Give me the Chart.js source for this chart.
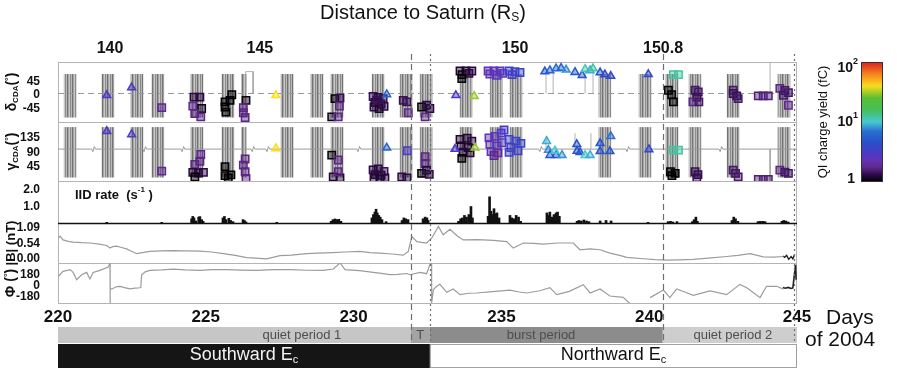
<!DOCTYPE html>
<html>
<head>
<meta charset="utf-8">
<script src="https://cdn.jsdelivr.net/npm/chart.js@4"></script>
<style>
  html, body { margin: 0; padding: 0; background: #fff; }
  #grafico { display: block; }
</style>
</head>
<body>
<canvas id="grafico" width="897" height="372"></canvas>
<script>
// ---- datos ----
const diasEje = [220, 225, 230, 235, 240, 245];
const distancias = ["140", "145", "150", "150.8"];
const diasDistancia = [221.76, 226.83, 235.46, 240.47];

// centros de los barridos del detector (día del año)
const barridos = [220.41, 221.69, 222.67, 223.38, 224.70, 225.75, 227.75, 228.76, 229.44, 230.83,
  231.77, 232.45, 233.80, 234.82, 235.49, 238.50, 239.86, 240.77, 241.55, 242.84, 244.56];
const barridosCortos = [226.29];
const rangoDelta = [-74, 69];
const rangoGamma = [12, 168];

// [día, ángulo, carga QI (fC)]
const cuadradosDelta = [
  [223.51, -42, 1.8], [224.60, -7, 1.3], [224.80, -7, 1.3], [224.56, -37, 1.8], [224.86, -45, 1.1],
  [224.63, -62, 1.7], [224.83, -73, 1.7], [225.88, 1, 1.0], [225.82, -18, 1.0], [225.65, -23, 1.0],
  [225.65, -40, 1.0], [225.68, -57, 1.0], [226.36, -18, 1.1], [226.27, -42, 1.7], [226.27, -59, 1.7],
  [226.33, -75, 1.7], [229.37, -12, 1.0], [229.54, -10, 1.4], [229.52, -37, 1.7], [229.26, -73, 1.1],
  [229.48, -73, 1.7], [230.66, -5, 1.4], [230.83, -8, 1.3], [231.00, -12, 1.4], [230.72, -25, 1.3],
  [230.93, -30, 1.4], [230.69, -40, 1.3], [230.86, -45, 1.2], [231.03, -38, 1.3], [230.79, -18, 1.4],
  [231.68, -18, 1.4], [231.80, -23, 1.4], [231.85, -59, 1.8], [232.30, -40, 1.0], [232.47, -34, 1.3],
  [232.58, -45, 1.3], [232.42, -73, 1.7], [233.60, 80, 1.2], [233.80, 80, 1.2], [234.00, 80, 1.3],
  [233.67, 68, 1.1], [233.90, 72, 1.3], [233.66, 55, 1.0], [234.55, 80, 2.5], [234.75, 80, 2.5],
  [234.95, 80, 2.5], [234.61, 70, 2.4], [234.85, 66, 2.6], [235.05, 72, 2.5], [235.26, 80, 3.5],
  [235.46, 78, 3.5], [235.63, 75, 3.8], [235.36, 68, 3.3], [240.82, 68, 12], [240.99, 68, 12],
  [240.65, 16, 1.0], [240.76, 1, 1.0], [240.82, -23, 1.0], [241.55, 16, 1.5], [241.66, 10, 1.5],
  [241.61, -7, 1.4], [241.48, -23, 1.7], [241.68, -23, 1.5], [242.84, 16, 1.5], [242.84, 5, 1.4],
  [242.96, -3, 1.4], [243.01, -12, 1.5], [243.69, -3, 1.6], [243.86, -3, 1.6], [244.03, -3, 1.6],
  [244.42, 22, 1.7], [244.59, 15, 1.5], [244.71, 8, 1.5], [244.54, -1, 1.5], [244.71, -34, 1.8]
];
const triangulosDelta = [
  [221.65, -1, 3], [222.49, 25, 3], [227.37, -1, 40], [231.12, 2, 6], [233.46, -1, 3], [234.08, -4, 30],
  [236.47, 78, 5], [236.64, 82, 6], [236.85, 88, 7], [237.02, 90, 6], [237.19, 84, 8], [237.49, 76, 5],
  [237.73, 66, 5], [237.83, 86, 11], [238.00, 82, 9], [238.10, 88, 12], [238.34, 75, 5], [238.50, 68, 4],
  [238.70, 63, 4], [239.97, 69, 4]
];
const cuadradosGamma = [
  [223.51, 31, 1.8], [224.83, 83, 1.8], [224.63, 52, 1.7], [224.80, 62, 1.7], [224.56, 27, 1.3],
  [224.75, 25, 1.3], [224.92, 27, 1.3], [224.63, 13, 1.0], [225.65, 45, 1.0], [225.85, 19, 1.0],
  [225.65, 17, 1.0], [225.76, 10, 1.0], [226.33, 69, 1.7], [226.27, 50, 1.7], [226.33, 29, 1.7],
  [226.36, 8, 1.7], [229.26, 81, 1.0], [229.48, 66, 1.7], [229.31, 13, 1.2], [229.54, 10, 1.2],
  [229.48, 29, 1.7], [230.66, 35, 1.3], [230.83, 38, 1.3], [231.03, 30, 1.4], [230.72, 20, 1.3],
  [230.93, 18, 1.3], [230.69, 8, 1.3], [230.89, 6, 1.2], [231.06, 10, 1.3], [231.82, 95, 3],
  [231.63, 13, 1.3], [231.80, 10, 1.3], [232.42, 76, 1.7], [232.42, 55, 1.7], [232.30, 24, 1.0],
  [232.47, 34, 1.3], [232.56, 21, 1.3], [233.60, 130, 1.2], [233.84, 134, 1.2], [234.00, 125, 1.3],
  [233.63, 110, 1.2], [233.87, 105, 1.2], [233.70, 90, 1.3], [233.94, 88, 1.2], [233.66, 71, 1.0],
  [234.58, 135, 2.5], [234.78, 140, 2.5], [234.99, 150, 2.8], [235.09, 160, 3.0], [234.61, 115, 2.4],
  [234.85, 110, 2.5], [235.02, 120, 2.6], [234.65, 92, 2.5], [234.88, 88, 2.0], [234.75, 80, 1.8],
  [235.26, 130, 3.5], [235.49, 125, 3.5], [235.66, 118, 3.8], [235.32, 105, 3.3], [235.56, 95, 3.5],
  [235.26, 90, 3.5], [240.82, 97, 12], [240.99, 97, 12], [240.72, 29, 1.0], [240.88, 24, 1.0],
  [240.77, 17, 1.0], [241.55, 29, 1.4], [241.65, 20, 1.4], [241.61, 10, 1.4], [242.84, 34, 1.5],
  [242.92, 24, 1.5], [243.01, 13, 1.5], [243.69, 5, 1.6], [243.86, 5, 1.6], [244.03, 5, 1.6],
  [244.42, 34, 1.7], [244.59, 28, 1.5], [244.71, 24, 1.5]
];
const triangulosGamma = [
  [221.65, 156, 3], [222.49, 146, 3], [227.37, 102, 40], [231.12, 104, 6], [233.43, 100, 3],
  [234.11, 104, 30], [236.53, 125, 9], [236.59, 97, 8], [236.64, 81, 5], [236.85, 81, 5],
  [237.05, 81, 8], [236.81, 95, 10], [237.55, 115, 5], [237.56, 94, 5], [237.66, 90, 5],
  [237.83, 81, 10], [238.00, 81, 9], [238.34, 118, 5], [238.34, 93, 5], [238.67, 93, 5],
  [238.70, 140, 7], [239.99, 99, 4]
];

// líneas de referencia de los ángulos [día, valor]
const baseDelta = [[220, 5], [245, 5]];
const picosDelta = [
  [226.35, 5], [226.35, 78], [226.6, 78], [226.6, 5], [226.6, null],
  [236.51, 5], [236.51, 75], [236.51, null], [236.75, 5], [236.75, 86], [236.75, null],
  [237.83, 5], [237.83, 82], [237.83, null], [238.10, 5], [238.10, 86], [238.10, null],
  [244.09, 5], [244.09, 108]
];
const baseGamma = [
  [220, 100], [221.14, 100], [221.18, 92], [221.23, 108], [221.27, 100],
  [222.87, 100], [222.91, 92], [222.96, 108], [223.00, 100],
  [224.16, 100], [224.20, 92], [224.25, 108], [224.29, 100],
  [226.53, 100], [226.57, 92], [226.62, 108], [226.66, 100],
  [227.03, 100], [227.07, 92], [227.12, 108], [227.16, 100],
  [230.11, 100], [230.15, 92], [230.20, 108], [230.24, 100],
  [233.32, 100], [233.36, 92], [233.41, 108], [233.45, 100],
  [236.26, 100], [236.30, 92], [236.35, 108], [236.39, 100],
  [239.21, 100], [239.25, 92], [239.30, 108], [239.34, 100],
  [242.36, 100], [242.40, 92], [242.45, 108], [242.49, 100], [245, 100]
];
const picosGamma = [
  [236.51, 100], [236.51, 140], [236.51, null], [237.49, 100], [237.49, 150], [237.49, null],
  [238.03, 100], [238.03, 150], [238.03, null], [244.09, 100], [244.09, 0]
];

// tasa IID (s^-1)
const tasaIID = [
  [221.65, 0.04], [223.51, 0.04],
  [224.52, 0.25], [224.56, 0.39], [224.60, 0.30], [224.66, 0.12], [224.76, 0.35], [224.80, 0.38], [224.86, 0.20], [224.91, 0.10],
  [225.58, 0.30], [225.63, 0.39], [225.68, 0.20], [225.78, 0.28], [225.84, 0.15], [225.92, 0.08],
  [226.26, 0.20], [226.31, 0.14], [226.36, 0.06], [227.40, 0.04],
  [229.24, 0.10], [229.30, 0.20], [229.37, 0.24], [229.44, 0.20], [229.50, 0.22], [229.57, 0.10],
  [230.62, 0.30], [230.67, 0.50], [230.72, 0.65], [230.76, 0.82], [230.80, 0.60], [230.85, 0.45], [230.90, 0.35], [230.96, 0.20], [231.10, 0.08],
  [231.64, 0.15], [231.70, 0.30], [231.76, 0.25], [231.84, 0.20],
  [232.35, 0.25], [232.42, 0.35], [232.48, 0.30], [232.52, 0.15],
  [233.55, 0.10], [233.62, 0.25], [233.68, 0.30], [233.75, 0.45], [233.82, 0.35], [233.90, 0.50], [233.97, 0.98], [234.02, 0.30],
  [234.55, 0.40], [234.60, 1.56], [234.65, 0.70], [234.70, 0.50], [234.75, 0.85], [234.80, 0.55], [234.85, 0.60], [234.92, 0.30],
  [235.29, 0.45], [235.35, 0.30], [235.42, 0.25], [235.50, 0.45], [235.58, 0.35], [235.65, 0.10],
  [236.54, 0.60], [236.58, 0.45], [236.64, 0.65], [236.70, 0.35], [236.78, 0.50], [236.85, 0.60], [236.90, 0.65], [236.96, 0.40],
  [237.56, 0.10], [237.62, 0.15], [237.70, 0.12], [237.79, 0.18], [237.88, 0.12], [237.96, 0.08],
  [238.34, 0.12], [238.54, 0.15], [238.71, 0.12], [239.96, 0.04],
  [240.64, 0.08], [240.72, 0.10], [240.80, 0.06], [240.94, 0.08],
  [241.46, 0.08], [241.52, 0.20], [241.58, 0.35], [241.63, 0.10],
  [242.80, 0.15], [242.86, 0.35], [242.92, 0.25], [243.00, 0.10],
  [243.68, 0.08], [243.76, 0.10], [243.84, 0.10], [243.92, 0.08],
  [244.49, 0.10], [244.55, 0.15], [244.62, 0.12], [244.70, 0.06]
];

// |B| (nT)
const campoB = [
  [220.01, 0.73], [220.07, 0.80], [220.17, 0.67], [220.35, 0.62], [220.51, 0.59], [220.80, 0.57],
  [221.08, 0.56], [221.40, 0.52], [221.65, 0.47], [221.76, 0.38], [221.85, 0.43], [221.99, 0.45],
  [222.15, 0.40], [222.32, 0.35], [222.50, 0.26], [222.66, 0.18], [222.85, 0.22], [223.11, 0.26],
  [223.50, 0.28], [223.90, 0.29], [224.30, 0.28], [224.80, 0.27], [225.20, 0.24], [225.59, 0.18],
  [226.00, 0.12], [226.38, 0.04], [226.70, 0.02], [227.06, 0.00], [227.51, 0.11], [227.90, 0.13],
  [228.41, 0.18], [228.80, 0.20], [229.31, 0.22], [229.70, 0.24], [230.22, 0.26], [230.55, 0.22],
  [230.89, 0.20], [231.30, 0.17], [231.68, 0.13], [231.85, 0.26], [231.97, 0.79], [232.14, 0.61],
  [232.30, 0.58], [232.47, 0.56], [232.64, 0.73], [232.87, 1.15], [233.03, 0.85], [233.26, 1.05],
  [233.50, 0.82], [233.71, 0.67], [234.20, 0.68], [234.73, 0.65], [235.18, 0.61], [235.40, 0.38],
  [235.74, 0.56], [236.10, 0.55], [236.42, 0.52], [236.90, 0.56], [237.43, 0.56], [237.66, 0.32],
  [238.00, 0.35], [238.34, 0.32], [238.67, 0.20], [239.00, 0.12], [239.24, 0.05], [239.80, 0.00],
  [240.20, -0.03], [240.59, -0.05], [241.00, -0.04], [241.49, -0.02], [242.00, 0.02], [242.62, 0.08],
  [243.00, 0.12], [243.41, 0.18], [243.86, 0.07], [244.20, 0.06], [244.54, 0.08]
];
const campoBFinal = [[244.52, 0.10], [244.58, 0.05], [244.65, 0.12], [244.72, -0.02], [244.80, 0.08], [244.86, 0.00], [244.92, 0.15]];

// Φ (°)
const anguloPhi = [
  [220.01, 148], [220.17, 227], [220.41, 254], [220.51, 211], [220.63, 95], [220.80, 174], [220.97, 211],
  [221.08, 106], [221.19, 211], [221.42, 243], [221.70, 296], [221.76, 360], [221.76, -275], [221.77, -52],
  [221.82, -52], [221.99, -14], [222.10, -10], [222.25, -30], [222.44, -52], [222.60, -40], [222.72, -37],
  [222.80, -30], [222.83, 174], [222.95, 220], [223.11, 243], [223.50, 250], [223.90, 264], [224.30, 250],
  [224.80, 243], [225.20, 255], [225.71, 254], [226.20, 248], [226.72, 243], [227.30, 255], [227.85, 254],
  [228.40, 245], [228.97, 243], [229.31, 264], [229.54, 360], [229.71, 254], [230.20, 240], [230.67, 211],
  [231.00, 190], [231.23, 174], [231.50, 180], [231.80, 193], [231.91, 174], [232.25, 211], [232.47, 190],
  [232.58, 333], [232.64, 360], [232.64, -275], [232.70, -60], [232.81, -10], [232.92, 21], [233.15, -106],
  [233.37, -54], [233.60, -143], [233.90, -120], [234.16, -116], [234.70, -95], [235.29, -70], [235.60, -100],
  [235.86, -116], [236.30, -80], [236.64, -32], [236.87, -143], [237.30, -90], [237.77, 16], [238.00, -116],
  [238.34, -52], [238.67, -164], [239.12, -185], [239.35, -285], [239.40, null], [240.03, -190], [240.48, -70],
  [240.70, -190], [240.93, -52], [241.20, -100], [241.49, -154], [242.06, -84], [242.62, -143], [243.07, 21],
  [243.30, -32], [243.75, -190], [243.97, -10], [244.31, -10], [244.54, -54]
];
const anguloPhiFinal = [[244.52, -30], [244.60, -40], [244.70, -28], [244.80, -45], [244.86, -35], [244.95, 330], [244.97, 95]];

// periodos y sentido del campo
const periodos = ["quiet period 1", "T", "burst period", "quiet period 2"];
const limitesPeriodo = [220, 231.93, 232.58, 240.46, 245];
const anclasPeriodo = [228.25, 232.25, 236.34, 242.83];
const campos = ["Southward", "Northward"];
const limitesCampo = [220, 232.58, 245];
const cortes = [231.93, 232.58, 240.46, 244.9];

// ---- estilo ----
Chart.defaults.font.family = "'Liberation Sans', Arial, sans-serif";
Chart.defaults.color = "#111";

const paradas = [
  [0.00, [0, 0, 0]], [0.06, [45, 10, 70]], [0.12, [95, 40, 140]], [0.18, [100, 50, 180]],
  [0.25, [70, 60, 200]], [0.33, [40, 80, 200]], [0.42, [40, 110, 210]], [0.50, [70, 200, 210]],
  [0.60, [70, 190, 90]], [0.70, [90, 190, 50]], [0.80, [250, 220, 30]], [0.90, [245, 130, 30]],
  [1.00, [220, 30, 30]]
];

function colorRendimiento(q, alfa) {
  const t = Math.min(1, Math.max(0, Math.log10(q) / 2));
  let i = 1;
  while (i < paradas.length - 1 && paradas[i][0] < t) i++;
  const [t0, c0] = paradas[i - 1];
  const [t1, c1] = paradas[i];
  const f = (t - t0) / (t1 - t0);
  const c = c0.map((v, k) => Math.round(v + (c1[k] - v) * f));
  return `rgba(${c[0]}, ${c[1]}, ${c[2]}, ${alfa})`;
}

function patronRayado() {
  const c = document.createElement("canvas");
  c.width = 5;
  c.height = 1;
  const g = c.getContext("2d");
  ["#8c8c8c", "#b8b8b8", "#727272", "#a4a4a4", "#c8c8c8"].forEach((col, i) => {
    g.fillStyle = col;
    g.fillRect(i, 0, 1, 1);
  });
  return g.createPattern(c, "repeat");
}
const rayado = patronRayado();

const puntos = lista => lista.map(([x, y]) => ({ x, y }));

function marcadores(lista, eje, estilo, radio) {
  return {
    type: "scatter",
    yAxisID: eje,
    order: 1,
    data: puntos(lista),
    pointStyle: estilo,
    pointRadius: radio,
    pointBorderWidth: 1.5,
    pointBorderColor: lista.map(p => colorRendimiento(p[2], 1)),
    pointBackgroundColor: lista.map(p => colorRendimiento(p[2], 0.45))
  };
}

function barrido(centros, rango, eje, grosor) {
  return {
    type: "bar",
    yAxisID: eje,
    order: 4,
    grouped: false,
    barThickness: grosor,
    data: centros.map(x => ({ x, y: rango })),
    backgroundColor: rayado,
    borderWidth: 0
  };
}

function linea(lista, eje, color, ancho, guiones) {
  return {
    type: "line",
    yAxisID: eje,
    order: 3,
    data: puntos(lista),
    borderColor: color,
    borderWidth: ancho,
    borderDash: guiones || [],
    pointRadius: 0,
    tension: 0,
    spanGaps: false
  };
}

function ejePanel(min, max, peso, orden, marcas, formato) {
  return {
    type: "linear",
    position: "left",
    stack: "paneles",
    stackWeight: peso,
    weight: orden,
    min: min,
    max: max,
    afterBuildTicks: s => { s.ticks = marcas.map(v => ({ value: v })); },
    afterFit: s => { s.width = 58; },
    grid: { display: false, drawTicks: false },
    border: { display: false },
    ticks: { autoSkip: false, padding: 18, color: "#111", font: { size: 12, weight: "bold" }, callback: formato }
  };
}

// texto con sub/superíndices: piezas [texto, fuente, desplazamiento]
function textoCompuesto(ctx, piezas, x, y, alinear) {
  let ancho = 0;
  const medidas = piezas.map(([t, f]) => { ctx.font = f; const w = ctx.measureText(t).width; ancho += w; return w; });
  let cx = alinear === "center" ? x - ancho / 2 : alinear === "right" ? x - ancho : x;
  ctx.textAlign = "left";
  ctx.textBaseline = "middle";
  piezas.forEach(([t, f, dy], i) => {
    ctx.font = f;
    ctx.fillText(t, cx, y + (dy || 0));
    cx += medidas[i];
  });
}

function textoVertical(ctx, piezas, x, y) {
  ctx.save();
  ctx.translate(x, y);
  ctx.rotate(-Math.PI / 2);
  textoCompuesto(ctx, piezas, 0, 0, "center");
  ctx.restore();
}

const F = "'Liberation Sans', Arial, sans-serif";
const paneles = ["yDelta", "yGamma", "yIID", "yB", "yPhi"];

const decoracion = {
  id: "decoracion",
  beforeDatasetsDraw(chart) {
    const { ctx, chartArea: a, scales } = chart;
    ctx.save();
    ctx.strokeStyle = "#b4b4b4";
    ctx.lineWidth = 1;
    paneles.forEach(id => {
      const s = scales[id];
      ctx.strokeRect(a.left + 0.5, Math.round(s.top) + 0.5, a.width - 1, Math.round(s.bottom - s.top));
    });
    ctx.restore();
  },
  afterDatasetsDraw(chart) {
    const { ctx, chartArea: a, scales } = chart;
    const y0 = Math.round(scales.yIID.getPixelForValue(0)) + 0.5;
    ctx.save();
    ctx.strokeStyle = "#111";
    ctx.lineWidth = 1.5;
    ctx.beginPath();
    ctx.moveTo(a.left, y0);
    ctx.lineTo(a.right, y0);
    ctx.stroke();
    ctx.restore();
  },
  afterDraw(chart) {
    const { ctx, chartArea: a, scales } = chart;
    const x = scales.x;
    ctx.save();

    // franjas de periodos
    const coloresPeriodo = ["#c6c6c6", "#a4a4a4", "#8c8c8c", "#cecece"];
    periodos.forEach((p, i) => {
      const x0 = x.getPixelForValue(limitesPeriodo[i]);
      const x1 = x.getPixelForValue(limitesPeriodo[i + 1]);
      ctx.fillStyle = coloresPeriodo[i];
      ctx.fillRect(x0, 327, x1 - x0, 16);
      ctx.fillStyle = "#4e4e4e";
      textoCompuesto(ctx, [[p, `13px ${F}`]], x.getPixelForValue(anclasPeriodo[i]), 335.5, "center");
    });

    // sentido del campo
    campos.forEach((c, i) => {
      const x0 = x.getPixelForValue(limitesCampo[i]);
      const x1 = x.getPixelForValue(limitesCampo[i + 1]);
      if (i === 0) {
        ctx.fillStyle = "#151515";
        ctx.fillRect(x0, 344, x1 - x0, 24);
        ctx.fillStyle = "#f2f2f2";
      } else {
        ctx.strokeStyle = "#a0a0a0";
        ctx.lineWidth = 1;
        ctx.strokeRect(x0 + 0.5, 344.5, x1 - x0 - 1, 23);
        ctx.fillStyle = "#111";
      }
      textoCompuesto(ctx, [[c + " E", `18px ${F}`], ["c", `11px ${F}`, 5]], (x0 + x1) / 2, 355, "center");
    });

    // cortes entre periodos
    ctx.strokeStyle = "#6e6e6e";
    ctx.lineWidth = 1.2;
    cortes.forEach((d, i) => {
      const px = Math.round(x.getPixelForValue(d)) + 0.5;
      ctx.setLineDash(i % 2 === 0 ? [6, 4] : [2, 3]);
      ctx.beginPath();
      ctx.moveTo(px, a.top - 8);
      ctx.lineTo(px, 343);
      ctx.stroke();
    });
    ctx.setLineDash([]);

    // títulos
    ctx.fillStyle = "#111";
    textoCompuesto(ctx, [["Distance to Saturn (R", `20px ${F}`], ["S", `12px ${F}`, 5], [")", `20px ${F}`]], 423, 13, "center");
    textoCompuesto(ctx, [["Days", `21px ${F}`]], 826, 318, "left");
    textoCompuesto(ctx, [["of 2004", `21px ${F}`]], 805, 340, "left");
    textoCompuesto(ctx, [["IID rate  (s", `bold 13px ${F}`], ["-1", `bold 8px ${F}`, -5], [" )", `bold 13px ${F}`]], 75, 195, "left");

    const b = `bold 14px ${F}`, sb = `bold 8px ${F}`, gr = `bold 9px ${F}`;
    const yD = scales.yDelta, yG = scales.yGamma, yB = scales.yB, yP = scales.yPhi;
    textoVertical(ctx, [["δ", b], ["CDA", sb, 4], ["(", b], ["°", gr, -3], [")", b]], 12, (yD.top + yD.bottom) / 2);
    textoVertical(ctx, [["γ", b], ["CDA", sb, 4], ["(", b], ["°", gr, -3], [")", b]], 12, (yG.top + yG.bottom) / 2);
    textoVertical(ctx, [["|B| (nT)", `bold 13px ${F}`]], 11, (yB.top + yB.bottom) / 2);
    textoVertical(ctx, [["Φ (", b], ["°", gr, -3], [")", b]], 11, (yP.top + yP.bottom) / 2);

    // barra de color de la carga QI
    const cb = { x: 861, y: 62, w: 22, h: 120 };
    const grad = ctx.createLinearGradient(0, cb.y + cb.h, 0, cb.y);
    paradas.forEach(([t, c]) => grad.addColorStop(t, `rgb(${c[0]}, ${c[1]}, ${c[2]})`));
    ctx.fillStyle = grad;
    ctx.fillRect(cb.x, cb.y, cb.w, cb.h);
    ctx.strokeStyle = "#333";
    ctx.lineWidth = 1;
    ctx.strokeRect(cb.x + 0.5, cb.y + 0.5, cb.w - 1, cb.h - 1);
    ctx.fillStyle = "#111";
    const e = `bold 14px ${F}`, s = `bold 9px ${F}`;
    textoCompuesto(ctx, [["10", e], ["2", s, -6]], 858, cb.y + 6, "right");
    textoCompuesto(ctx, [["10", e], ["1", s, -6]], 858, cb.y + cb.h / 2, "right");
    textoCompuesto(ctx, [["1", e]], 855, cb.y + cb.h - 3, "right");
    textoVertical(ctx, [["QI charge yield (fC)", `13px ${F}`]], 823, cb.y + cb.h / 2);

    ctx.restore();
  }
};

new Chart(document.getElementById("grafico"), {
  type: "scatter",
  data: {
    datasets: [
      marcadores(triangulosDelta, "yDelta", "triangle", 4.5),
      marcadores(cuadradosDelta, "yDelta", "rect", 5.2),
      marcadores(triangulosGamma, "yGamma", "triangle", 4.5),
      marcadores(cuadradosGamma, "yGamma", "rect", 5.2),
      linea(baseDelta, "yDelta", "#9a9a9a", 1, [6, 4]),
      linea(picosDelta, "yDelta", "#a0a0a0", 0.8),
      linea(baseGamma, "yGamma", "#9a9a9a", 1),
      linea(picosGamma, "yGamma", "#a0a0a0", 0.8),
      barrido(barridos, rangoDelta, "yDelta", 12),
      barrido(barridosCortos, rangoDelta, "yDelta", 5),
      barrido(barridos, rangoGamma, "yGamma", 12),
      barrido(barridosCortos, rangoGamma, "yGamma", 5),
      {
        type: "bar",
        yAxisID: "yIID",
        order: 2,
        grouped: false,
        barThickness: 2,
        data: puntos(tasaIID),
        backgroundColor: "#111",
        borderWidth: 0
      },
      linea(campoB, "yB", "#9c9c9c", 1.2),
      linea(campoBFinal, "yB", "#222", 1.4),
      linea(anguloPhi, "yPhi", "#9c9c9c", 1.2),
      linea(anguloPhiFinal, "yPhi", "#222", 1.6)
    ]
  },
  options: {
    responsive: false,
    animation: false,
    layout: { padding: { left: 0, right: 100, top: 0, bottom: 0 } },
    plugins: { legend: { display: false }, tooltip: { enabled: false } },
    scales: {
      x: {
        type: "linear",
        position: "bottom",
        min: 220,
        max: 245,
        offset: false,
        afterBuildTicks: s => { s.ticks = diasEje.map(v => ({ value: v })); },
        afterFit: s => { s.height = 69; },
        grid: { display: false, drawTicks: false, offset: false },
        border: { display: false },
        ticks: { autoSkip: false, maxRotation: 0, padding: 4, color: "#111", font: { size: 17, weight: "bold" } }
      },
      x2: {
        type: "linear",
        position: "top",
        min: 220,
        max: 245,
        offset: false,
        afterBuildTicks: s => { s.ticks = diasDistancia.map(v => ({ value: v })); },
        afterFit: s => { s.height = 62; },
        grid: { display: false, drawTicks: false },
        border: { display: false },
        ticks: {
          autoSkip: false, maxRotation: 0, padding: 4, color: "#111",
          font: { size: 16, weight: "bold" },
          callback: (v, i) => distancias[i]
        }
      },
      yDelta: ejePanel(-90, 110, 60, 5, [-45, 0, 45], v => String(v)),
      yGamma: ejePanel(0, 185, 59, 4, [45, 90, 135], v => String(v)),
      yIID: ejePanel(0, 2.5, 42, 3, [1, 2], v => v.toFixed(1)),
      yB: ejePanel(-0.15, 1.27, 40, 2, [0, 0.54, 1.09], v => v.toFixed(2)),
      yPhi: ejePanel(-275, 360, 40, 1, [-180, 0, 180], v => String(v))
    }
  },
  plugins: [decoracion]
});
</script>
</body>
</html>
